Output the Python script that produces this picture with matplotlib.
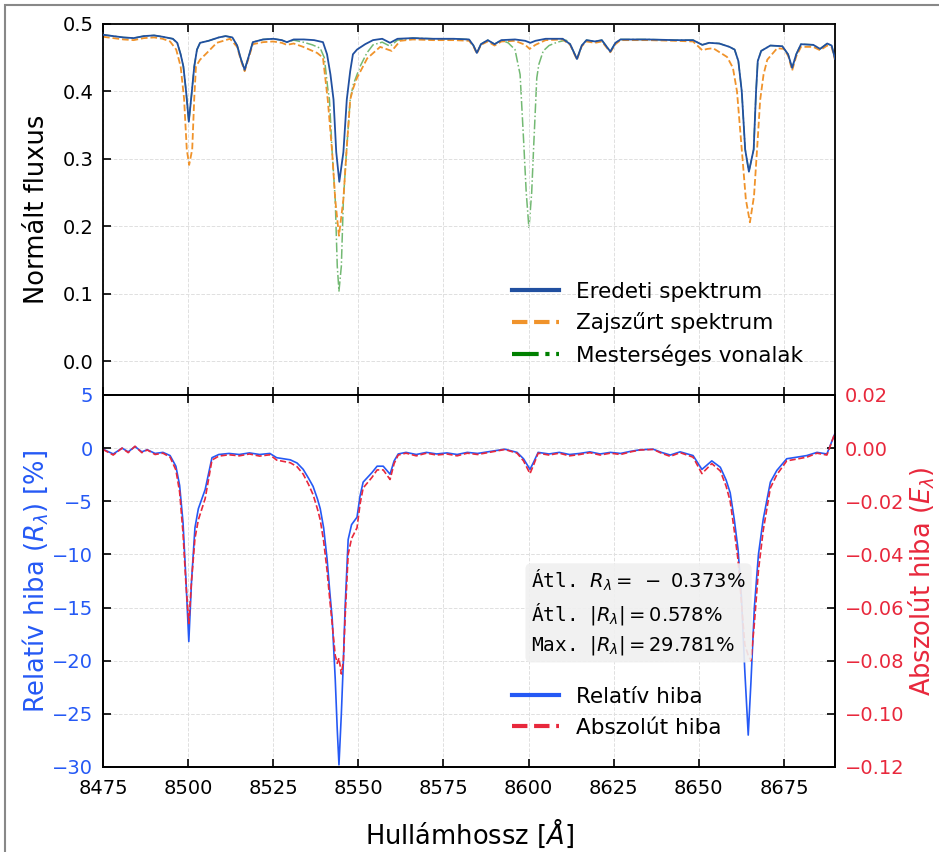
import numpy as np
import matplotlib
matplotlib.use('Agg')
import matplotlib.pyplot as plt
from matplotlib.patches import Rectangle

# --- spectra: (wavelength [A], normalised flux) ---
orig_pts = [(8475, 0.484), (8478, 0.482), (8481, 0.480), (8484, 0.479), (8487, 0.482), (8490, 0.483),
            (8492.5, 0.481), (8495.5, 0.478), (8496.8, 0.472), (8497.8, 0.455), (8498.6, 0.437),
            (8499.4, 0.400), (8500.2, 0.355), (8501.0, 0.395), (8501.8, 0.437), (8502.6, 0.462),
            (8503.5, 0.472), (8506, 0.475), (8509, 0.480), (8511, 0.482), (8513, 0.480), (8514.4, 0.468),
            (8515.5, 0.448), (8516.6, 0.432), (8517.8, 0.452), (8519, 0.473), (8522, 0.477), (8525, 0.478),
            (8527.5, 0.476), (8529, 0.473), (8531, 0.477), (8534, 0.477), (8537, 0.476), (8539.6, 0.473),
            (8540.8, 0.455), (8541.8, 0.425), (8542.7, 0.388), (8543.5, 0.310), (8544.4, 0.266),
            (8545.6, 0.310), (8546.6, 0.388), (8547.6, 0.430), (8548.4, 0.455), (8549.6, 0.462),
            (8552, 0.470), (8554.3, 0.476), (8557, 0.478), (8559.3, 0.472), (8561.5, 0.478), (8566, 0.479),
            (8572, 0.478), (8578, 0.478), (8582.5, 0.477), (8583.8, 0.468), (8584.8, 0.457), (8586, 0.470),
            (8588, 0.476), (8590, 0.470), (8592, 0.476), (8596, 0.477), (8599, 0.475), (8600.5, 0.472),
            (8602, 0.475), (8605, 0.478), (8610, 0.478), (8612.2, 0.470), (8614.2, 0.448), (8615.6, 0.468),
            (8617, 0.476), (8619.5, 0.474), (8621.5, 0.476), (8624, 0.459), (8625.5, 0.472), (8627, 0.477),
            (8635, 0.477), (8643, 0.476), (8648.3, 0.476), (8651, 0.469), (8653, 0.472), (8656, 0.471),
            (8659, 0.466), (8660.5, 0.462), (8661.6, 0.445), (8662.6, 0.400), (8663.6, 0.314),
            (8664.7, 0.281), (8666.1, 0.314), (8666.8, 0.400), (8667.3, 0.445), (8668.3, 0.460),
            (8671, 0.468), (8674.5, 0.467), (8676.2, 0.455), (8677.4, 0.435), (8678.6, 0.455), (8680, 0.470),
            (8683.6, 0.469), (8685.6, 0.463), (8687.7, 0.471), (8689, 0.468), (8690, 0.448)]

filt_pts = [(8475, 0.481), (8478, 0.479), (8481, 0.477), (8484, 0.476), (8487, 0.479), (8490, 0.480),
            (8492.5, 0.478), (8494.7, 0.474), (8496.5, 0.462), (8497.8, 0.437), (8498.8, 0.390),
            (8499.6, 0.314), (8500.3, 0.291), (8501.2, 0.314), (8501.8, 0.390), (8502.3, 0.437),
            (8503.5, 0.447), (8505.5, 0.457), (8508.4, 0.472), (8512.3, 0.478), (8514.4, 0.466),
            (8515.5, 0.446), (8516.6, 0.430), (8517.8, 0.450), (8519, 0.470), (8522, 0.473), (8525, 0.474),
            (8527.5, 0.472), (8529, 0.469), (8531, 0.471), (8533.8, 0.466), (8537.9, 0.457), (8539.6, 0.450),
            (8541.0, 0.388), (8542.3, 0.310), (8543.2, 0.240), (8544.3, 0.186), (8545.6, 0.240),
            (8546.5, 0.310), (8547.6, 0.388), (8548.5, 0.405), (8549.6, 0.420), (8552.6, 0.449),
            (8556.4, 0.466), (8559.8, 0.460), (8562.3, 0.475), (8566, 0.477), (8572, 0.476), (8578, 0.476),
            (8582.5, 0.475), (8583.8, 0.467), (8584.8, 0.456), (8586, 0.469), (8588, 0.474), (8590, 0.468),
            (8592, 0.474), (8596, 0.475), (8599, 0.469), (8600.3, 0.463), (8602, 0.469), (8605, 0.476),
            (8610, 0.477), (8612.2, 0.469), (8614.2, 0.447), (8615.6, 0.467), (8617, 0.474), (8619.5, 0.472),
            (8621.5, 0.474), (8624, 0.458), (8625.5, 0.470), (8627, 0.476), (8635, 0.476), (8643, 0.475),
            (8648.3, 0.474), (8651, 0.461), (8652.5, 0.463), (8654.2, 0.464), (8658.3, 0.451), (8660, 0.435),
            (8661.2, 0.400), (8662.6, 0.314), (8663.8, 0.240), (8665, 0.206), (8666.2, 0.245),
            (8667.3, 0.330), (8668, 0.387), (8669, 0.425), (8670.1, 0.447), (8673, 0.464), (8675, 0.463),
            (8676.3, 0.452), (8677.4, 0.431), (8678.6, 0.452), (8680, 0.466), (8683.6, 0.466),
            (8685.6, 0.461), (8687.7, 0.468), (8689, 0.466), (8690, 0.446)]

art_pts = [(8475, 0.484), (8478, 0.482), (8481, 0.480), (8484, 0.479), (8487, 0.482), (8490, 0.483),
           (8492.5, 0.481), (8495.5, 0.478), (8496.8, 0.472), (8497.8, 0.455), (8498.6, 0.437),
           (8499.4, 0.400), (8500.2, 0.355), (8501.0, 0.395), (8501.8, 0.437), (8502.6, 0.462),
           (8503.5, 0.472), (8506, 0.475), (8509, 0.480), (8511, 0.482), (8513, 0.480), (8514.4, 0.468),
           (8515.5, 0.448), (8516.6, 0.432), (8517.8, 0.452), (8519, 0.473), (8522, 0.477), (8525, 0.478),
           (8527.5, 0.476), (8529, 0.473), (8531, 0.476), (8533.8, 0.473), (8536.5, 0.469), (8538.8, 0.464),
           (8540, 0.450), (8541, 0.405), (8541.5, 0.388), (8542.3, 0.310), (8543.2, 0.240), (8543.8, 0.141),
           (8544.3, 0.104), (8545.0, 0.141), (8545.6, 0.240), (8546.5, 0.310), (8547.6, 0.388),
           (8548.5, 0.410), (8550.5, 0.437), (8552.5, 0.457), (8554.3, 0.469), (8557, 0.473),
           (8559.3, 0.467), (8561.5, 0.476), (8566, 0.479), (8572, 0.478), (8578, 0.478), (8582.5, 0.477),
           (8583.8, 0.468), (8584.8, 0.457), (8586, 0.470), (8588, 0.476), (8590, 0.470), (8592, 0.476),
           (8594, 0.472), (8596, 0.462), (8597.5, 0.425), (8598.5, 0.330), (8599.3, 0.250), (8600.1, 0.197),
           (8600.9, 0.250), (8601.5, 0.320), (8602.4, 0.420), (8603, 0.440), (8604.3, 0.460), (8606, 0.468),
           (8608.4, 0.473), (8611, 0.476), (8612.2, 0.470), (8614.2, 0.448), (8615.6, 0.468), (8617, 0.476),
           (8619.5, 0.474), (8621.5, 0.476), (8624, 0.459), (8625.5, 0.472), (8627, 0.477), (8635, 0.477),
           (8643, 0.476), (8648.3, 0.476), (8651, 0.469), (8653, 0.472), (8656, 0.471), (8659, 0.466),
           (8660.5, 0.462), (8661.6, 0.445), (8662.6, 0.400), (8663.6, 0.314), (8664.7, 0.281),
           (8666.1, 0.314), (8666.8, 0.400), (8667.3, 0.445), (8668.3, 0.460), (8671, 0.468), (8674.5, 0.467),
           (8676.2, 0.455), (8677.4, 0.435), (8678.6, 0.455), (8680, 0.470), (8683.6, 0.469),
           (8685.6, 0.463), (8687.7, 0.471), (8689, 0.468), (8690, 0.448)]

# --- errors: (wavelength, relative error [%], absolute error) ---
err_pts = [(8475, -0.1, -0.0005), (8478, -0.55, -0.0026), (8480.6, 0.0, 0.0), (8482.4, -0.35, -0.0017),
           (8484.4, 0.15, 0.0007), (8486.4, -0.35, -0.0017), (8488, -0.15, -0.0007), (8490.3, -0.5, -0.0024),
           (8492.6, -0.4, -0.0019), (8494.7, -0.7, -0.0034), (8496.4, -1.7, -0.0082), (8497.5, -3.5, -0.0165),
           (8498.5, -7.0, -0.032), (8499.3, -12.0, -0.050), (8500.2, -18.2, -0.066), (8501.0, -12.5, -0.050),
           (8502, -7.5, -0.034), (8503, -5.7, -0.027), (8505, -3.9, -0.019), (8507, -0.9, -0.0045),
           (8509, -0.6, -0.003), (8512, -0.5, -0.0025), (8515, -0.6, -0.0029), (8518, -0.45, -0.0022),
           (8521, -0.6, -0.003), (8524, -0.5, -0.0025), (8526, -0.9, -0.0045), (8528, -1.0, -0.005),
           (8530, -1.1, -0.0055), (8532, -1.4, -0.007), (8533.8, -2.0, -0.0098), (8535.3, -2.8, -0.0135),
           (8536.7, -3.6, -0.0175), (8538, -4.8, -0.023), (8538.8, -5.7, -0.027), (8539.8, -7.5, -0.035),
           (8540.8, -10.4, -0.046), (8541.6, -13.5, -0.057), (8542.3, -16.0, -0.066), (8543.2, -21.7, -0.078),
           (8543.8, -26.5, -0.081), (8544.3, -29.8, -0.079), (8545.0, -25.0, -0.085), (8545.6, -20.0, -0.080),
           (8546.1, -15.0, -0.064), (8547, -8.6, -0.040), (8548, -7.2, -0.034), (8549.6, -6.5, -0.030),
           (8550.5, -4.5, -0.021), (8551.4, -3.2, -0.015), (8554, -2.3, -0.011), (8555.5, -1.7, -0.0082),
           (8557.3, -1.7, -0.0082), (8559.3, -2.45, -0.0118), (8560.5, -1.2, -0.0058), (8561.7, -0.55, -0.0026),
           (8564, -0.4, -0.0019), (8567, -0.6, -0.0029), (8570, -0.4, -0.0019), (8573, -0.55, -0.0026),
           (8576, -0.45, -0.0022), (8579, -0.6, -0.0029), (8582, -0.4, -0.0019), (8585, -0.5, -0.0024),
           (8588, -0.35, -0.0017), (8591, -0.2, -0.001), (8593, -0.1, -0.0005), (8596.6, -0.4, -0.0019),
           (8598.5, -1.0, -0.0048), (8600.4, -2.0, -0.0096), (8601.5, -1.3, -0.0062), (8602.8, -0.4, -0.0019),
           (8606, -0.55, -0.0026), (8609, -0.4, -0.0019), (8612, -0.6, -0.0029), (8615, -0.5, -0.0024),
           (8618, -0.35, -0.0017), (8621, -0.55, -0.0026), (8624, -0.4, -0.0019), (8627, -0.5, -0.0024),
           (8630, -0.3, -0.0014), (8632.8, -0.15, -0.0007), (8636.6, -0.1, -0.0005), (8639, -0.4, -0.0019),
           (8641.6, -0.65, -0.0031), (8644.5, -0.35, -0.0017), (8648.3, -0.7, -0.0034), (8650.9, -2.0, -0.0096),
           (8653.8, -1.2, -0.0058), (8656.3, -1.8, -0.0086), (8658, -3.0, -0.0143), (8659.2, -4.2, -0.020),
           (8660.4, -6.7, -0.031), (8661.5, -9.5, -0.042), (8662.5, -14.0, -0.058), (8663.5, -21.0, -0.074),
           (8664.5, -27.0, -0.078), (8665.3, -22.0, -0.080), (8666.3, -15.0, -0.066), (8667.5, -10.0, -0.046),
           (8668.9, -6.7, -0.031), (8671, -3.2, -0.015), (8672.9, -2.1, -0.010), (8675.8, -1.0, -0.0048),
           (8678.8, -0.85, -0.0041), (8681.7, -0.7, -0.0034), (8684.7, -0.4, -0.0019), (8687.6, -0.55, -0.0026),
           (8689.5, 1.0, 0.004), (8690, 1.4, 0.006)]

stat_names = ['Átl. ', 'Átl. ', 'Max. ']
stat_exprs = [r'$R_\lambda =\;-\;0.373\%$', r'$|R_\lambda| = 0.578\%$', r'$|R_\lambda| = 29.781\%$']

x_ticks = [8475, 8500, 8525, 8550, 8575, 8600, 8625, 8650, 8675]

c_orig = '#2150a0'
c_filt = '#f0932b'
c_art = 'green'
c_rel = '#2559f5'
c_abs = '#e8283c'

wl_o, fl_o = np.array(orig_pts).T
wl_f, fl_f = np.array(filt_pts).T
wl_a, fl_a = np.array(art_pts).T
wl_e, rel_e, abs_e = np.array(err_pts).T

fig = plt.figure(figsize=(9.39, 8.52), dpi=100)
ax1 = fig.add_axes([0.1097, 0.5364, 0.7796, 0.4355])
ax2 = fig.add_axes([0.1097, 0.0998, 0.7796, 0.4366], sharex=ax1)
ax3 = ax2.twinx()

leg_kw = dict(loc='lower left', bbox_to_anchor=(0.532, 0.027), frameon=False, fontsize=15.5,
              handlelength=2.2, handletextpad=0.8)

# top panel
ax1.plot(wl_a, fl_a, color=c_art, ls='-.', lw=1.1, alpha=0.55, label='Mesterséges vonalak', zorder=1)
ax1.plot(wl_f, fl_f, color=c_filt, ls='--', lw=1.3, label='Zajszűrt spektrum', zorder=2)
ax1.plot(wl_o, fl_o, color=c_orig, ls='-', lw=1.3, label='Eredeti spektrum', zorder=3)
ax1.set_xlim(8475, 8690)
ax1.set_ylim(-0.05, 0.5)
ax1.set_yticks([0.0, 0.1, 0.2, 0.3, 0.4, 0.5])
ax1.set_xticks(x_ticks)
ax1.grid(True, ls='--', lw=0.7, color='#e0e0e0')
ax1.tick_params(direction='in', top=True, bottom=True, right=False, labelbottom=False,
                length=6, width=1.2, labelsize=14, pad=7)
ax1.set_ylabel('Normált fluxus', fontsize=18.5)
ax1.yaxis.set_label_coords(-0.072, 0.5)
h, l = ax1.get_legend_handles_labels()
leg1 = ax1.legend(h[::-1], l[::-1], **leg_kw)
for ln in leg1.get_lines():
    ln.set_linewidth(3)
    ln.set_alpha(1)

# bottom panel
l_rel, = ax2.plot(wl_e, rel_e, color=c_rel, lw=1.2, label='Relatív hiba')
l_abs, = ax3.plot(wl_e, abs_e, color=c_abs, ls='--', lw=1.2, label='Abszolút hiba')
ax2.set_ylim(-30, 5)
ax3.set_ylim(-0.12, 0.02)
ax2.set_yticks(np.arange(-30, 6, 5))
ax3.set_yticks([-0.12, -0.10, -0.08, -0.06, -0.04, -0.02, 0.00, 0.02])
ax2.grid(True, ls='--', lw=0.7, color='#e0e0e0')
ax2.tick_params(direction='in', top=True, bottom=True, right=False, length=6, width=1.2,
                labelsize=14, pad=7)
ax2.tick_params(axis='x', pad=9)
ax2.tick_params(axis='y', labelcolor=c_rel)
ax3.tick_params(direction='in', length=6, width=1.2, labelsize=14, pad=7, labelcolor=c_abs)
ax2.set_xlabel('Hullámhossz [$\\AA$]', fontsize=18.5)
ax2.xaxis.set_label_coords(0.5, -0.135)
ax2.set_ylabel('Relatív hiba ($R_\\lambda$) [%]', fontsize=18.5, color=c_rel)
ax2.yaxis.set_label_coords(-0.072, 0.5)
ax3.set_ylabel('Abszolút hiba ($E_\\lambda$)', fontsize=18.5, color=c_abs)
ax3.yaxis.set_label_coords(1.097, 0.5)

txt = '\n'.join(n + e for n, e in zip(stat_names, stat_exprs))
ax3.text(0.585, 0.535, txt, transform=ax2.transAxes, family='monospace', fontsize=14,
         va='top', ha='left', linespacing=1.4,
         bbox=dict(boxstyle='round,pad=0.3', fc='#f0f0f0', ec='none', alpha=0.9), zorder=5)

leg2 = ax3.legend([l_rel, l_abs], ['Relatív hiba', 'Abszolút hiba'], **leg_kw)
for ln in leg2.get_lines():
    ln.set_linewidth(3)

for ax in (ax1, ax2, ax3):
    for s in ax.spines.values():
        s.set_linewidth(1.3)

fig.patches.append(Rectangle((5 / 939, -0.05), 1.2, 1 - 5 / 852 + 0.05, transform=fig.transFigure,
                             fill=False, ec='#888888', lw=1.5))

fig.savefig('out.png', dpi=100)
